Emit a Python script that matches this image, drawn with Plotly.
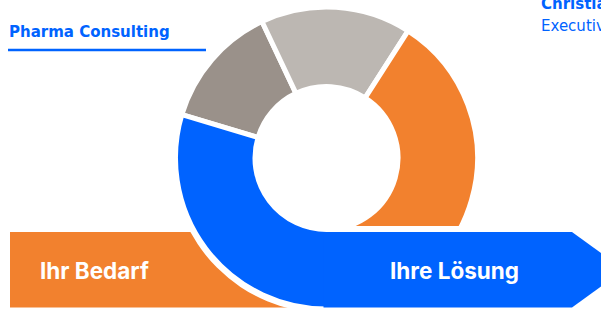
import plotly.graph_objects as go

# ---- data ----
segment_labels = ["Segment A", "Segment B", "Segment C", "Segment D"]
segment_values = [48, 58, 147, 107]          # angular shares of the ring (degrees)
segment_colors = ["#9A918A", "#BCB7B2", "#F2812E", "#0063FF"]
header_title = "Pharma Consulting"
person_name = "Christian"
person_role = "Executive"
left_label = "Ihr Bedarf"
right_label = "Ihre Lösung"

BLUE = "#0063FF"
ORANGE = "#F2812E"
W, H = 601, 309
FONT = "Inter"
SMALL_FONT = "DejaVu Sans"


def fx(x):
    return x / W


def fy(y):
    return 1 - y / H


CX, CY = 326.5, 158.0
R_DOM = 151.0
LINE_W = 5
R_IN_VIS = 74.0
hole = (R_IN_VIS - LINE_W / 2) / R_DOM

fig = go.Figure()
fig.add_trace(go.Pie(
    labels=segment_labels,
    values=segment_values,
    sort=False,
    direction="clockwise",
    rotation=-73.3,
    hole=hole,
    marker=dict(colors=segment_colors, line=dict(color="white", width=LINE_W)),
    textinfo="none",
    hoverinfo="skip",
    showlegend=False,
    domain=dict(x=[fx(CX - R_DOM), fx(CX + R_DOM)],
                y=[fy(CY + R_DOM), fy(CY - R_DOM)]),
))

band_top, band_bot = 232.0, 307.5
shapes = [
    # orange "Ihr Bedarf" bar (behind the ring)
    dict(type="rect", xref="paper", yref="paper", layer="below",
         x0=fx(10), x1=fx(CX), y0=fy(band_bot), y1=fy(band_top),
         fillcolor=ORANGE, line=dict(width=0)),
    # white halo around the ring
    dict(type="circle", xref="paper", yref="paper", layer="below",
         x0=fx(CX - 155), x1=fx(CX + 155), y0=fy(CY + 155), y1=fy(CY - 155),
         fillcolor="white", line=dict(width=0)),
    # white gap above blue band
    dict(type="rect", xref="paper", yref="paper", layer="above",
         x0=fx(CX), x1=fx(485), y0=fy(band_top), y1=fy(226),
         fillcolor="white", line=dict(width=0)),
    # blue arrow band
    dict(type="path", xref="paper", yref="paper", layer="above",
         path=(f"M {fx(CX-3)} {fy(band_top)} L {fx(572)} {fy(band_top)} "
               f"L {fx(624)} {fy((band_top+band_bot)/2)} L {fx(572)} {fy(band_bot)} "
               f"L {fx(CX-3)} {fy(band_bot)} Z"),
         fillcolor=BLUE, line=dict(width=0)),
    # underline of header
    dict(type="line", xref="paper", yref="paper", layer="above",
         x0=fx(8), x1=fx(206), y0=fy(50), y1=fy(50),
         line=dict(color=BLUE, width=2.5)),
]

annotations = [
    dict(text=f"<b>{header_title}</b>", x=fx(7), y=fy(32),
         font=dict(size=15, color=BLUE, family=SMALL_FONT)),
    dict(text=f"<b>{person_name}</b>", x=fx(539), y=fy(4),
         font=dict(size=15, color=BLUE, family=SMALL_FONT)),
    dict(text=person_role, x=fx(539), y=fy(26),
         font=dict(size=15, color=BLUE, family=SMALL_FONT)),
    dict(text=f"<b>{left_label}</b>", x=fx(38), y=fy(270.5),
         font=dict(size=22.5, color="white", family=FONT)),
    dict(text=f"<b>{right_label}</b>", x=fx(388), y=fy(270.5),
         font=dict(size=22.5, color="white", family=FONT)),
]
for a in annotations:
    a.update(xref="paper", yref="paper", xanchor="left", yanchor="middle",
             showarrow=False)

fig.update_layout(
    width=W, height=H,
    margin=dict(l=0, r=0, t=0, b=0),
    paper_bgcolor="white", plot_bgcolor="white",
    shapes=shapes, annotations=annotations,
    showlegend=False,
)
fig.write_html(
    "out.html",
    config={"displayModeBar": False, "staticPlot": True},
    post_script="document.body.style.margin='0';document.body.style.overflow='hidden';",
)
